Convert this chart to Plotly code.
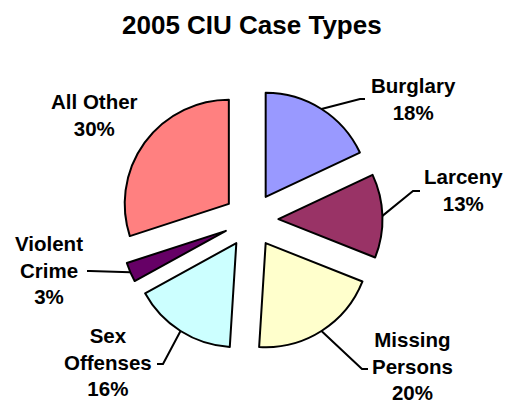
import math
import plotly.graph_objects as go

# Case-type shares for 2005 (percent), clockwise from 12 o'clock
categories = ["Burglary", "Larceny", "Missing Persons", "Sex Offenses", "Violent Crime", "All Other"]
shares = [18, 13, 20, 16, 3, 30]
label_lines = [["Burglary"], ["Larceny"], ["Missing", "Persons"], ["Sex", "Offenses"],
               ["Violent", "Crime"], ["All Other"]]
colors = ["#9999FF", "#993366", "#FFFFCC", "#CCFFFF", "#660066", "#FF8080"]

W, H = 508, 406
PULL = 0.263

# Pie box (pixels): square around the pie centre
CX, CY, BOX = 251, 220, 263


def px(x):
    return x / W


def py(y):
    return 1 - y / H


fig = go.Figure(go.Pie(
    labels=categories,
    values=shares,
    sort=False,
    direction="clockwise",
    rotation=0,
    pull=[PULL] * len(shares),
    marker=dict(colors=colors, line=dict(color="black", width=2)),
    textinfo="none",
    hoverinfo="label+percent",
    showlegend=False,
    domain=dict(x=[px(CX - BOX / 2), px(CX + BOX / 2)],
                y=[py(CY + BOX / 2), py(CY - BOX / 2)]),
))

# Radius as plotly computes it (box shrunk to leave room for the pull)
R = BOX / (2 + 2 * PULL)
total = sum(shares)

# Label anchor (text-block centre) and leader-line elbow/end points, pixels
label_pos = [(413, 99), (463, 190), (412, 366), (108, 362), (49, 270), (94, 115)]
leader_pts = [
    [(360, 99), (365, 99)],
    [(413, 191), (420, 191)],
    [(362, 369), (368, 369)],
    [(163, 364), (157, 364)],
    [(90, 271), (87, 271)],
    None,
]

FONT = "Liberation Sans, Arial, sans-serif"

annotations = [dict(
    text="<b>2005 CIU Case Types</b>", x=px(252), y=py(25), xref="paper", yref="paper",
    xanchor="center", yanchor="middle", showarrow=False,
    font=dict(family=FONT, size=26, color="black"),
)]
shapes = []

cum = 0
for name_lines, v, (lx, ly), pts in zip(label_lines, shares, label_pos, leader_pts):
    mid = (cum + v / 2) / total * 2 * math.pi
    cum += v
    dx, dy = math.sin(mid), -math.cos(mid)
    # outer edge of the pulled slice at its middle angle
    ex = CX + dx * R * (1 + PULL)
    ey = CY + dy * R * (1 + PULL)
    pct = f"{round(v / total * 100)}%"
    text = "<br>".join(f"<b>{t}</b>" for t in name_lines + [pct])
    annotations.append(dict(
        text=text, x=px(lx), y=py(ly), xref="paper", yref="paper",
        xanchor="center", yanchor="middle", showarrow=False, align="center",
        borderpad=0,
        font=dict(family=FONT, size=20.5, color="black"),
    ))
    if pts:
        path = f"M {px(ex)},{py(ey)} " + " ".join(f"L {px(x)},{py(y)}" for x, y in pts)
        shapes.append(dict(type="path", path=path, xref="paper", yref="paper",
                           line=dict(color="black", width=2)))

fig.update_layout(
    width=W, height=H,
    margin=dict(l=0, r=0, t=0, b=0),
    paper_bgcolor="white",
    plot_bgcolor="white",
    annotations=annotations,
    shapes=shapes,
)

fig.write_html("out.html")
